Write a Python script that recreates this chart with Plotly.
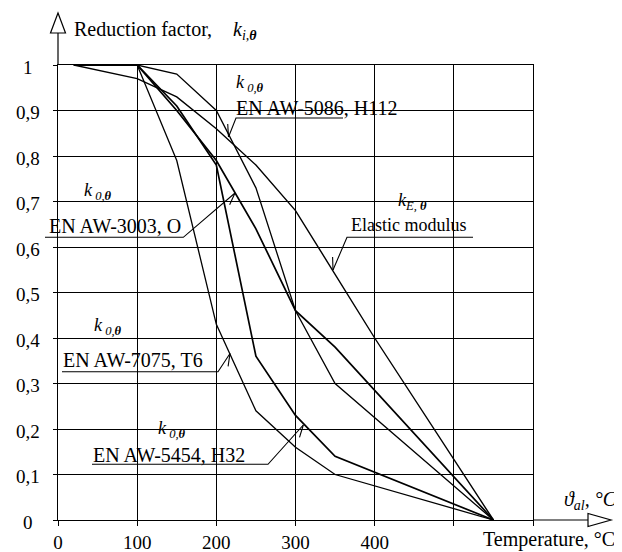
import math
import plotly.graph_objects as go

# ---------------- data ----------------
temps = [20, 100, 150, 200, 250, 300, 350, 550]
k_3003_O = [1.00, 1.00, 0.90, 0.79, 0.64, 0.46, 0.38, 0.00]
k_5086_H112 = [1.00, 1.00, 0.98, 0.90, 0.73, 0.46, 0.30, 0.00]
k_5454_H32 = [1.00, 1.00, 0.91, 0.78, 0.36, 0.23, 0.14, 0.00]
k_7075_T6 = [1.00, 1.00, 0.79, 0.43, 0.24, 0.16, 0.10, 0.00]
temps_E = [20, 100, 150, 200, 250, 300, 350, 400, 550]
k_E = [1.00, 0.97, 0.93, 0.86, 0.78, 0.68, 0.54, 0.40, 0.00]

x_tick_vals = [0, 100, 200, 300, 400, 500, 600]
x_tick_text = ["0", "100", "200", "300", "400", "", ""]
y_tick_vals = [0, 0.1, 0.2, 0.3, 0.4, 0.5, 0.6, 0.7, 0.8, 0.9, 1.0]
y_tick_text = ["0", "0,1", "0,2", "0,3", "0,4", "0,5", "0,6", "0,7", "0,8", "0,9", "1"]

# ---------------- geometry (page has an 8px body margin) ----------------
OFF = 8
W, H = 622 - OFF, 552 - OFF
# plot area in window pixels
PL, PR, PT, PB = 58, 533, 65, 520
ML, MR, MT, MB = PL - OFF, W - (PR - OFF), PT - OFF, H - (PB - OFF)


def px(x):
    return (x - PL) / (PR - PL)


def py(y):
    return (PB - y) / (PB - PT)


FONT = "Liberation Serif"

fig = go.Figure()

series = [
    (temps, k_3003_O, 1.7),
    (temps, k_5086_H112, 1.3),
    (temps, k_5454_H32, 1.7),
    (temps, k_7075_T6, 1.3),
    (temps_E, k_E, 1.4),
]
for xs, ys, w in series:
    fig.add_trace(go.Scatter(x=xs, y=ys, mode="lines",
                             line=dict(color="black", width=w),
                             showlegend=False, hoverinfo="skip"))

shapes = []

# white patches that break the grid behind labels
white_boxes = [
    (219, 66, 300, 92),     # k0 (5086)
    (219, 90, 433, 140),    # EN AW-5086, H112
    (45, 212, 186, 236),    # EN AW-3003, O
    (60, 341, 222, 370),    # EN AW-7075, T6
    (388, 191, 432, 212),   # kE
    (346, 207, 475, 236),   # Elastic modulus
    (139, 420, 193, 438),   # k0 (5454)
    (90, 440, 270, 463),    # EN AW-5454, H32
]
for x0, y0, x1, y1 in white_boxes:
    shapes.append(dict(type="rect", xref="paper", yref="paper",
                       x0=px(x0), x1=px(x1), y0=py(y1), y1=py(y0),
                       fillcolor="white", line=dict(width=0), layer="between"))

# axis extensions and arrows
shapes.append(dict(type="line", xref="paper", yref="paper", x0=0, x1=0,
                   y0=1, y1=py(33), line=dict(color="black", width=1.2)))
shapes.append(dict(type="path", xref="paper", yref="paper",
                   path=f"M {px(50.5)},{py(33)} L {px(65.5)},{py(33)} L {px(58)},{py(13)} Z",
                   fillcolor="white", line=dict(color="black", width=1.2)))
shapes.append(dict(type="line", xref="paper", yref="paper", x0=1, x1=px(588),
                   y0=0, y1=0, line=dict(color="black", width=1.2)))
shapes.append(dict(type="path", xref="paper", yref="paper",
                   path=f"M {px(588)},{py(513.5)} L {px(588)},{py(526.5)} L {px(611)},{py(520)} Z",
                   fillcolor="white", line=dict(color="black", width=1.2)))

# leader lines: (underline start, underline end/corner, tip) in pixels
leaders = [
    ((343, 118), (236, 118), (228.5, 137)),      # 5086
    ((45, 237.3), (183.3, 237.3), (235, 193)),   # 3003
    ((62, 371.7), (218, 371.7), (230, 353.5)),   # 7075
    ((92, 464.3), (268, 464.3), (303.3, 425)),   # 5454
    ((473, 237.3), (347, 237.3), (333, 270)),    # elastic
]
for a, c, t in leaders:
    path = (f"M {px(a[0])},{py(a[1])} L {px(c[0])},{py(c[1])} "
            f"L {px(t[0])},{py(t[1])}")
    shapes.append(dict(type="path", xref="paper", yref="paper", path=path,
                       line=dict(color="black", width=1.1)))
    ang = math.atan2(c[1] - t[1], c[0] - t[0]) - math.radians(25)
    bx, by = t[0] + 13 * math.cos(ang), t[1] + 13 * math.sin(ang)
    shapes.append(dict(type="path", xref="paper", yref="paper",
                       path=f"M {px(t[0])},{py(t[1])} L {px(bx)},{py(by)}",
                       line=dict(color="black", width=1.1)))

annotations = []


def label(text, x, y, size=20, xanchor="left"):
    annotations.append(dict(text=text, xref="paper", yref="paper",
                            x=px(x), y=py(y), xanchor=xanchor, yanchor="middle",
                            showarrow=False,
                            font=dict(family=FONT, size=size, color="black")))


K0 = "<i>k</i><sub><i> 0,<b>θ</b></i></sub>"
label("Reduction factor,", 72, 29)
label("<i>k</i><sub><i>i,<b>θ</b></i></sub>", 231, 30)
label(K0, 234, 84, 18)
label("EN AW-5086, H112", 234, 108)
label(K0, 82, 191, 18)
label("EN AW-3003, O", 47, 226)
label(K0, 92, 326, 18)
label("EN AW-7075, T6", 61, 360)
label("<i>k</i><sub><i>E, <b>θ</b></i></sub>", 396, 201, 18)
label("Elastic modulus", 349, 225, 18)
label(K0, 156, 429, 18)
label("EN AW-5454, H32", 91, 455)
label("<i>ϑ</i><sub><i>al</i></sub><i>, °C</i>", 562, 500)
label("Temperature, °C", 481, 539)

for v, t in zip(y_tick_vals, y_tick_text):
    annotations.append(dict(text=t, xref="paper", yref="y", x=px(28), y=v,
                            xanchor="center", yanchor="middle", yshift=-2,
                            showarrow=False,
                            font=dict(family=FONT, size=19, color="black")))

fig.update_layout(
    width=W, height=H,
    autosize=False,
    margin=dict(l=ML, r=MR, t=MT, b=MB, pad=0, autoexpand=False),
    paper_bgcolor="white", plot_bgcolor="white",
    showlegend=False,
    shapes=shapes, annotations=annotations,
    xaxis=dict(range=[0, 600], tickvals=x_tick_vals, ticktext=x_tick_text,
               automargin=False,
               showgrid=True, gridcolor="black", gridwidth=1.1,
               ticks="outside", ticklen=5, tickcolor="black", tickwidth=1.1,
               showline=True, linecolor="black", linewidth=1.2, mirror=True,
               zeroline=False,
               tickfont=dict(family=FONT, size=19, color="black")),
    yaxis=dict(range=[0, 1], tickvals=y_tick_vals, showticklabels=False,
               automargin=False,
               showgrid=True, gridcolor="black", gridwidth=1.1,
               ticks="outside", ticklen=4, tickcolor="black", tickwidth=1.1,
               showline=True, linecolor="black", linewidth=1.2, mirror=True,
               zeroline=False),
)

fig.write_html("out.html")
